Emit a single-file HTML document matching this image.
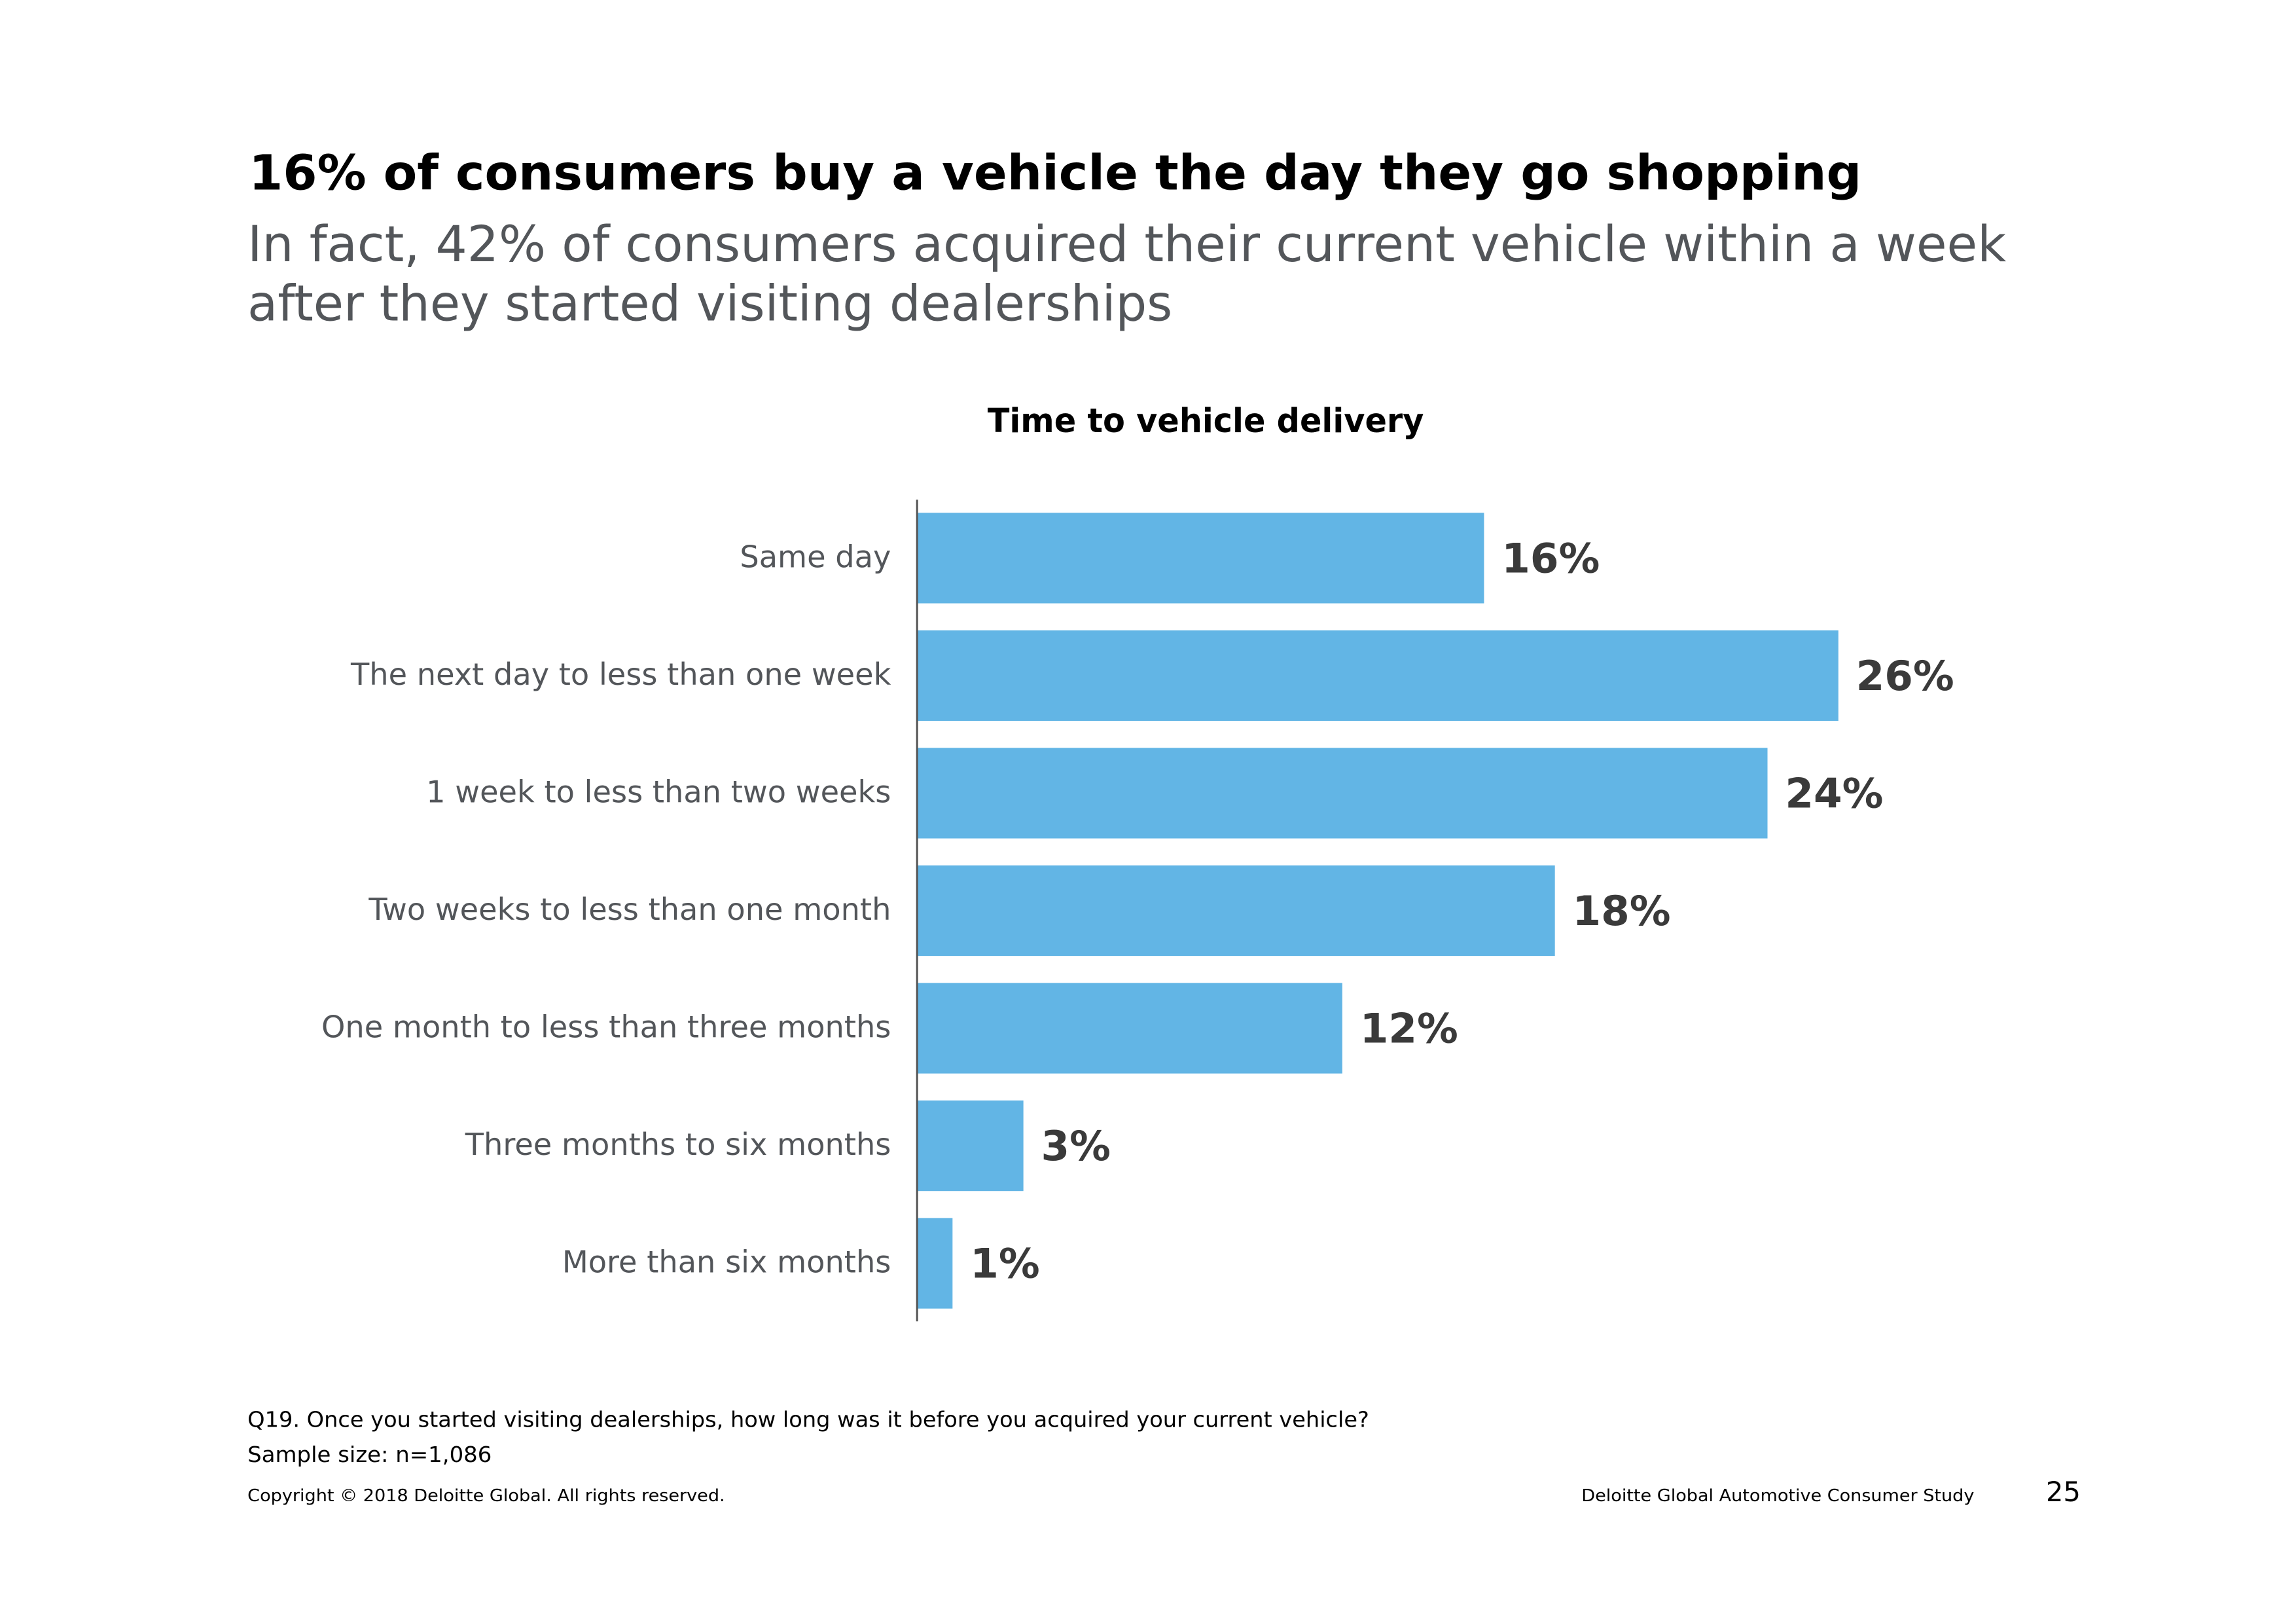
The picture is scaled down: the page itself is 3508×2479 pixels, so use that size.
<!DOCTYPE html>
<html><head><meta charset="utf-8"><style>
html,body{margin:0;padding:0;background:#fff;}
svg{display:block;}
text{font-family:"DejaVu Sans","Liberation Sans",sans-serif;}
</style></head><body>
<svg id="chart" width="3508" height="2479" viewBox="0 0 3525 2491" xmlns="http://www.w3.org/2000/svg">
<text x="382" y="291" font-size="74" font-weight="bold" fill="#000" textLength="2476" lengthAdjust="spacingAndGlyphs">16% of consumers buy a vehicle the day they go shopping</text>
<text x="380" y="401" font-size="76" fill="#53565a" textLength="2700" lengthAdjust="spacingAndGlyphs">In fact, 42% of consumers acquired their current vehicle within a week</text>
<text x="380" y="492" font-size="76" fill="#53565a" textLength="1420" lengthAdjust="spacingAndGlyphs">after they started visiting dealerships</text>
<text x="1851" y="663" font-size="51" font-weight="bold" fill="#000" text-anchor="middle" textLength="670" lengthAdjust="spacingAndGlyphs">Time to vehicle delivery</text>
<g id="plot"></g>
<line x1="1408" y1="767" x2="1408" y2="2028" stroke="#555" stroke-width="3"/>
<text x="380" y="2190" font-size="33" fill="#000" textLength="1722" lengthAdjust="spacingAndGlyphs">Q19. Once you started visiting dealerships, how long was it before you acquired your current vehicle?</text>
<text x="380" y="2244" font-size="33" fill="#000" textLength="375" lengthAdjust="spacingAndGlyphs">Sample size: n=1,086</text>
<text x="380" y="2304" font-size="26" fill="#000" textLength="733" lengthAdjust="spacingAndGlyphs">Copyright © 2018 Deloitte Global. All rights reserved.</text>
<text x="2428" y="2304" font-size="26" fill="#000" textLength="603" lengthAdjust="spacingAndGlyphs">Deloitte Global Automotive Consumer Study</text>
<text x="3141" y="2304" font-size="42" fill="#000">25</text>
</svg>
<script>
const categories = ["Same day","The next day to less than one week","1 week to less than two weeks","Two weeks to less than one month","One month to less than three months","Three months to six months","More than six months"];
const values = [16, 26, 24, 18, 12, 3, 1];
const valueLabels = ["16%","26%","24%","18%","12%","3%","1%"];

const NS = "http://www.w3.org/2000/svg";
const x0 = 1408, pxPerUnit = 54.4;
const xScale = v => x0 + v * pxPerUnit;
const yTop = 787, rowPitch = 180.4, barH = 139;
const yScale = i => yTop + i * rowPitch;
const g = document.getElementById('plot');
categories.forEach((c, i) => {
  const y = yScale(i);
  const r = document.createElementNS(NS, 'rect');
  r.setAttribute('x', x0);
  r.setAttribute('y', y);
  r.setAttribute('width', xScale(values[i]) - x0);
  r.setAttribute('height', barH);
  r.setAttribute('fill', '#62b5e5');
  
  
  g.appendChild(r);
  const t = document.createElementNS(NS, 'text');
  t.setAttribute('x', 1368);
  t.setAttribute('y', y + barH / 2 + 14);
  t.setAttribute('font-size', '46.5');
  t.setAttribute('fill', '#53565a');
  t.setAttribute('text-anchor', 'end');
  t.textContent = c;
  
  
  g.appendChild(t);
  const v = document.createElementNS(NS, 'text');
  v.setAttribute('x', xScale(values[i]) + 27);
  v.setAttribute('y', y + barH / 2 + 22);
  v.setAttribute('font-size', '63');
  v.setAttribute('font-weight', 'bold');
  v.setAttribute('fill', '#3a3a3a');
  v.textContent = valueLabels[i];
  
  
  g.appendChild(v);
});
</script>
</body></html>
